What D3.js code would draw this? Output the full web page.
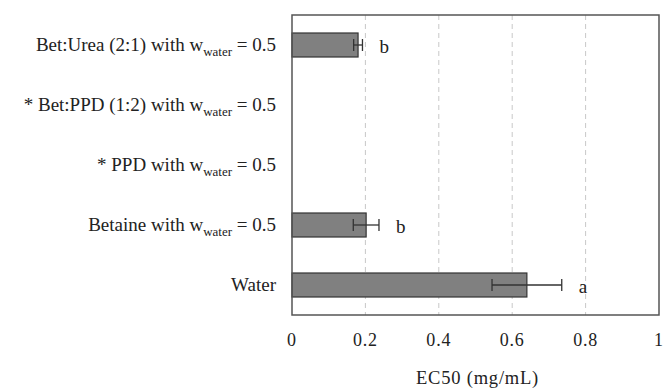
<!DOCTYPE html>
<html>
<head>
<meta charset="utf-8">
<script src="https://cdn.jsdelivr.net/npm/d3@7"></script>
<style>
  body { margin: 0; background: #fff; }
</style>
</head>
<body>
<script>
var width = 664, height = 388;

// data
var categories = ["Bet:Urea (2:1)", "Bet:PPD (1:2)", "PPD", "Betaine", "Water"];
var prefixes = ["Bet:Urea (2:1) with w", "* Bet:PPD (1:2) with w", "* PPD with w", "Betaine with w", "Water"];
var hasSub = [true, true, true, true, false];
var values = [0.18, null, null, 0.202, 0.64];
var errors = [0.012, null, null, 0.035, 0.095];
var letters = ["b", "", "", "b", "a"];
var xTicks = [0, 0.2, 0.4, 0.6, 0.8, 1];

var plotLeft = 292, plotRight = 659, plotTop = 15, plotBottom = 315;

var xScale = d3.scaleLinear()
  .domain([0, 1])
  .range([plotLeft, plotRight]);

var yScale = d3.scaleBand()
  .domain(categories)
  .range([plotTop, plotBottom])
  .paddingInner(0.6)
  .paddingOuter(0.3);

var svg = d3.select("body")
  .append("svg")
  .attr("width", width)
  .attr("height", height)
  .style("font-family", "'Liberation Serif', 'Times New Roman', serif");

// gridlines
svg.selectAll(".grid")
  .data(xTicks.slice(1, -1))
  .enter()
  .append("line")
  .attr("class", "grid")
  .attr("x1", function(d) { return xScale(d) })
  .attr("x2", function(d) { return xScale(d) })
  .attr("y1", plotTop)
  .attr("y2", plotBottom)
  .attr("stroke", "#c8c8c8")
  .attr("stroke-width", 1)
  .attr("stroke-dasharray", "5,4");

var rows = categories.map(function(c, i) {
  return { cat: c, value: values[i], err: errors[i], letter: letters[i] };
});
var withData = rows.filter(function(r) { return r.value != null });

// bars
svg.selectAll(".bar")
  .data(withData)
  .enter()
  .append("rect")
  .attr("class", "bar")
  .attr("x", xScale(0))
  .attr("y", function(r) { return yScale(r.cat) })
  .attr("width", function(r) { return xScale(r.value) - xScale(0) })
  .attr("height", yScale.bandwidth())
  .attr("fill", "#808080")
  .attr("stroke", "#333")
  .attr("stroke-width", 1.2);

// error bars
var errG = svg.selectAll(".err")
  .data(withData)
  .enter()
  .append("g")
  .attr("class", "err")
  .attr("stroke", "#333")
  .attr("stroke-width", 1.3);

errG.append("line")
  .attr("x1", function(r) { return xScale(r.value - r.err) })
  .attr("x2", function(r) { return xScale(r.value + r.err) })
  .attr("y1", function(r) { return yScale(r.cat) + yScale.bandwidth() / 2 })
  .attr("y2", function(r) { return yScale(r.cat) + yScale.bandwidth() / 2 });

[-1, 1].forEach(function(s) {
  errG.append("line")
    .attr("x1", function(r) { return xScale(r.value + s * r.err) })
    .attr("x2", function(r) { return xScale(r.value + s * r.err) })
    .attr("y1", function(r) { return yScale(r.cat) + yScale.bandwidth() / 2 - 6 })
    .attr("y2", function(r) { return yScale(r.cat) + yScale.bandwidth() / 2 + 6 });
});

// significance letters
svg.selectAll(".letter")
  .data(withData)
  .enter()
  .append("text")
  .attr("class", "letter")
  .attr("x", function(r) { return xScale(r.value + r.err) + 17 })
  .attr("y", function(r) { return yScale(r.cat) + yScale.bandwidth() / 2 + 8 })
  .attr("font-size", 19)
  .attr("fill", "#222")
  .text(function(r) { return r.letter });

// frame
svg.append("rect")
  .attr("x", plotLeft)
  .attr("y", plotTop)
  .attr("width", plotRight - plotLeft)
  .attr("height", plotBottom - plotTop)
  .attr("fill", "none")
  .attr("stroke", "#555")
  .attr("stroke-width", 1.5);

// x tick labels
svg.selectAll(".xtick")
  .data(xTicks)
  .enter()
  .append("text")
  .attr("class", "xtick")
  .attr("x", function(d) { return xScale(d) })
  .attr("y", 346)
  .attr("text-anchor", "middle")
  .attr("font-size", 18)
  .attr("letter-spacing", 0.8)
  .attr("fill", "#222")
  .text(function(d) { return d3.format("")(d) });

svg.append("text")
  .attr("x", (plotLeft + plotRight) / 2 + 2)
  .attr("y", 384)
  .attr("text-anchor", "middle")
  .attr("font-size", 18.5)
  .attr("letter-spacing", 0.8)
  .attr("fill", "#222")
  .text("EC50 (mg/mL)");

// category labels
var labels = svg.selectAll(".ylabel")
  .data(categories)
  .enter()
  .append("text")
  .attr("class", "ylabel")
  .attr("x", 276)
  .attr("y", function(c) { return yScale(c) + yScale.bandwidth() / 2 + 6 })
  .attr("text-anchor", "end")
  .attr("font-size", 19)
  .attr("fill", "#222");

labels.each(function(c, i) {
  var t = d3.select(this);
  t.append("tspan").text(prefixes[i]);
  if (hasSub[i]) {
    t.append("tspan").attr("dy", 5).attr("font-size", 13).text("water");
    t.append("tspan").attr("dy", -5).text(" = 0.5");
  }
});
</script>
</body>
</html>
